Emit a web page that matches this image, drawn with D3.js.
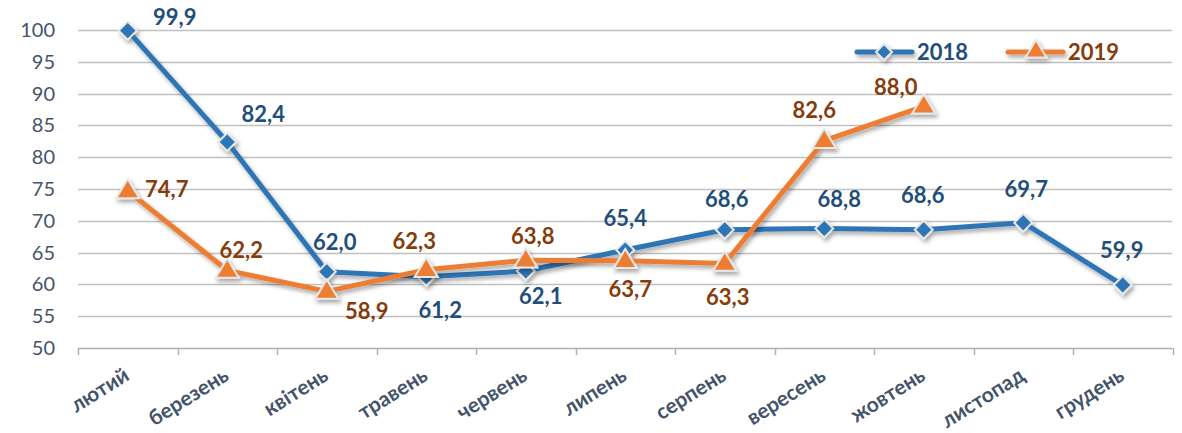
<!DOCTYPE html>
<html><head><meta charset="utf-8">
<script src="https://cdn.jsdelivr.net/npm/d3@7"></script>
<style>body{margin:0;background:#fff;}svg{display:block;font-family:Lato,"Open Sans",sans-serif;}</style>
</head><body>
<svg id="c" width="1182" height="433"></svg>
<script>
const months = ["лютий","березень","квітень","травень","червень","липень","серпень","вересень","жовтень","листопад","грудень"];
const values2018 = [99.9,82.4,62.0,61.2,62.1,65.4,68.6,68.8,68.6,69.7,59.9];
const values2019 = [74.7,62.2,58.9,62.3,63.8,63.7,63.3,82.6,88.0];
const yTicks = [50,55,60,65,70,75,80,85,90,95,100];
const seriesNames = ["2018","2019"];
// label placement (offset of the label centre from its point), layout only
const labelOffsets2018 = [[47,-14],[36,-28],[8,-30],[14,33],[15,25],[0,-32],[2,-31],[15,-29],[-1,-35],[3,-34],[-1,-35]];
const labelOffsets2019 = [[39,-2],[14,-20],[40,20],[-12,-29],[7,-24],[5,28],[3,34],[-10,-31],[-28,-19]];

const svg = d3.select("#c");
const x = d3.scaleBand().domain(months).range([78,1172.5]);
const y = d3.scaleLinear().domain([50,100]).range([348,30]);
const cx = m => x(m) + x.bandwidth()/2;

const defs = svg.append("defs");
const f = defs.append("filter").attr("id","sh").attr("x","-20%").attr("y","-20%").attr("width","140%").attr("height","160%");
f.append("feDropShadow").attr("dx",2).attr("dy",3).attr("stdDeviation",2).attr("flood-color","#000").attr("flood-opacity",0.35);

// grid
svg.append("g").selectAll("line").data(yTicks.filter(t=>t>50)).join("line")
  .attr("x1",78).attr("x2",1172).attr("y1",d=>Math.round(y(d))+0.5).attr("y2",d=>Math.round(y(d))+0.5)
  .attr("stroke","#c0c0c0").attr("stroke-width",1.5);

// y axis labels
svg.append("g").selectAll("text").data(yTicks).join("text")
  .attr("x",55).attr("y",d=>y(d)).attr("dy","0.35em").attr("text-anchor","end")
  .attr("fill","#44546a").attr("font-size",20).text(d=>d);

// x axis
const xa = svg.append("g");
xa.append("line").attr("x1",78).attr("x2",1172.5).attr("y1",348.5).attr("y2",348.5).attr("stroke","#b0b0b0").attr("stroke-width",1.5);
const bounds = months.map(m=>x(m)).concat([x.range()[1]]);
xa.selectAll("line.t").data(bounds).join("line").attr("class","t")
  .attr("x1",d=>Math.round(d)+0.5).attr("x2",d=>Math.round(d)+0.5).attr("y1",348).attr("y2",355)
  .attr("stroke","#b0b0b0").attr("stroke-width",1.5);
xa.selectAll("text").data(months).join("text")
  .attr("transform",d=>`translate(${cx(d)+3},${379}) rotate(-32)`)
  .attr("text-anchor","end").attr("font-size",21).attr("font-weight","bold").attr("fill","#44546a")
  .text(d=>d);

const line = d3.line().x(d=>cx(d.m)).y(d=>y(d.v));
const d18 = values2018.map((v,i)=>({m:months[i],v,o:labelOffsets2018[i]}));
const d19 = values2019.map((v,i)=>({m:months[i],v,o:labelOffsets2019[i]}));

const col18="#2e75b6", col19="#ed7d31", lab18="#1f4e79", lab19="#843c0c";

function diamond(g,px,py,r){
  g.append("path").attr("d",`M${px},${py-r}L${px+r},${py}L${px},${py+r}L${px-r},${py}Z`)
   .attr("fill",col18).attr("stroke","#e8e8e8").attr("stroke-width",2);
}
function tri(g,px,py,r){
  g.append("path").attr("d",`M${px},${py-r}L${px+r*1.05},${py+r*0.75}L${px-r*1.05},${py+r*0.75}Z`)
   .attr("fill",col19).attr("stroke","#e8e8e8").attr("stroke-width",2);
}

const g18 = svg.append("g").attr("filter","url(#sh)");
g18.append("path").datum(d18).attr("d",line).attr("fill","none").attr("stroke",col18).attr("stroke-width",5).attr("stroke-linejoin","round");
const g19 = svg.append("g").attr("filter","url(#sh)");
g19.append("path").datum(d19).attr("d",line).attr("fill","none").attr("stroke",col19).attr("stroke-width",5).attr("stroke-linejoin","round");
d18.forEach(d=>diamond(g18,cx(d.m),y(d.v),9));
d19.forEach(d=>tri(g19,cx(d.m),y(d.v)-1,11));

function labels(data,color){
  svg.append("g").selectAll("text").data(data).join("text")
    .attr("x",d=>cx(d.m)+d.o[0]).attr("y",d=>y(d.v)+d.o[1]).attr("dy","0.36em")
    .attr("text-anchor","middle").attr("font-size",22).attr("font-weight","bold").attr("fill",color)
    .text(d=>d3.format(".1f")(d.v).replace(".",","));
}
labels(d18,lab18);
labels(d19,lab19);

// legend
const lg = svg.append("g");
const leg = [{n:seriesNames[0],x:857,c:col18,t:lab18},{n:seriesNames[1],x:1008,c:col19,t:lab19}];
leg.forEach((l,i)=>{
  const gg = lg.append("g").attr("filter","url(#sh)");
  gg.append("line").attr("x1",l.x).attr("x2",l.x+55).attr("y1",52).attr("y2",52).attr("stroke",l.c).attr("stroke-width",5).attr("stroke-linecap","round");
  if(i===0) diamond(gg,l.x+27,52,8); else tri(gg,l.x+28,50,10);
  lg.append("text").attr("x",l.x+60).attr("y",52).attr("dy","0.36em").attr("font-size",22).attr("font-weight","bold").attr("fill",l.t).text(l.n);
});
</script>
</body></html>
